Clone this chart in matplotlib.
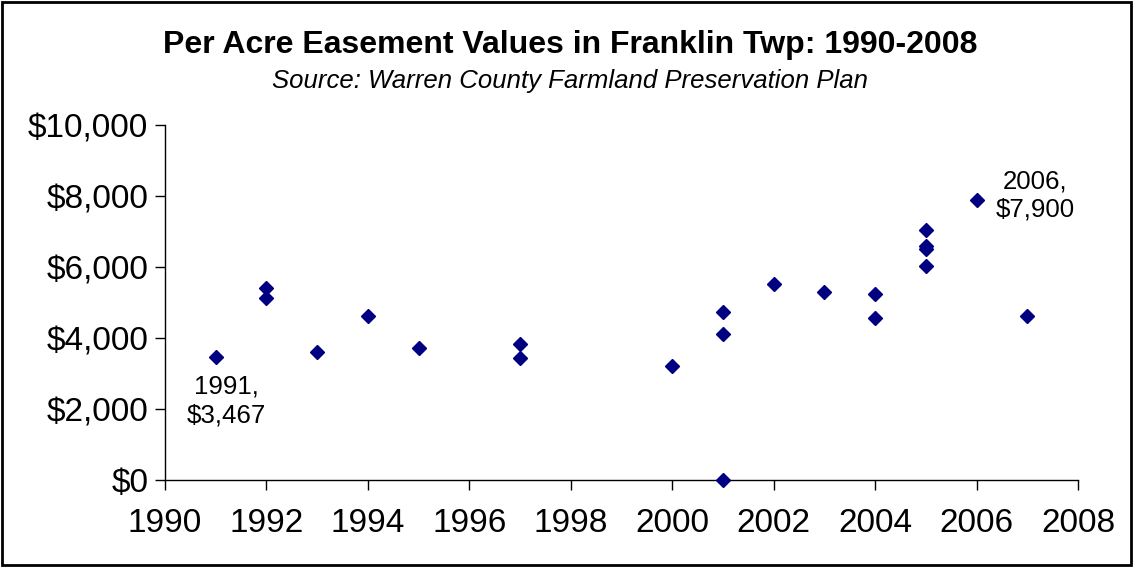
import matplotlib
matplotlib.use("Agg")
import matplotlib.pyplot as plt
from matplotlib.ticker import FuncFormatter, MultipleLocator
from matplotlib.patches import Rectangle

plt.rcParams['font.family'] = ['Liberation Sans', 'DejaVu Sans']

years = [1991, 1992, 1992, 1993, 1994, 1995, 1997, 1997, 2000,
         2001, 2001, 2001, 2002, 2003, 2004, 2004,
         2005, 2005, 2005, 2005, 2006, 2007]
values = [3467, 5420, 5120, 3600, 4610, 3720, 3820, 3430, 3210,
          4720, 4100, 0, 5520, 5290, 5240, 4550,
          7040, 6600, 6520, 6030, 7900, 4610]

labels = [(1991, 3467, "1991,\n$3,467"), (2006, 7900, "2006,\n$7,900")]

fig = plt.figure(figsize=(11.33, 5.67), dpi=100)
ax = fig.add_axes([0.1456, 0.1534, 0.8059, 0.6261])

ax.plot(years, values, linestyle='none', marker='D', markersize=6.8,
        color='#000080', markeredgecolor='#000080', clip_on=False, zorder=3)

ax.set_xlim(1990, 2008)
ax.set_ylim(0, 10000)
ax.xaxis.set_major_locator(MultipleLocator(2))
ax.yaxis.set_major_locator(MultipleLocator(2000))
ax.yaxis.set_major_formatter(FuncFormatter(lambda v, p: "${:,.0f}".format(v)))

for s in ['top', 'right']:
    ax.spines[s].set_visible(False)
for s in ['left', 'bottom']:
    ax.spines[s].set_color('#000000')
    ax.spines[s].set_linewidth(1.0)
ax.tick_params(axis='both', direction='out', length=7, width=1, labelsize=24, colors='black')
ax.tick_params(axis='x', pad=13)
ax.tick_params(axis='y', pad=5)

# annotations
ax.annotate(labels[0][2], xy=(labels[0][0], labels[0][1]), xytext=(8, -13),
            textcoords='offset points', ha='center', va='top', fontsize=18.6, linespacing=1.25)
ax.annotate(labels[1][2], xy=(labels[1][0], labels[1][1]), xytext=(42, 22),
            textcoords='offset points', ha='center', va='top', fontsize=18.6, linespacing=1.25)

fig.text(0.503, 0.92, "Per Acre Easement Values in Franklin Twp: 1990-2008",
         ha='center', va='center', fontsize=23, fontweight='bold')
fig.text(0.503, 0.857, "Source: Warren County Farmland Preservation Plan",
         ha='center', va='center', fontsize=18.5, fontstyle='italic')

fig.patches.append(Rectangle((0.002, 0.003), 0.996, 0.994, transform=fig.transFigure,
                             fill=False, edgecolor='black', linewidth=2))

fig.savefig("out.png", dpi=100)
